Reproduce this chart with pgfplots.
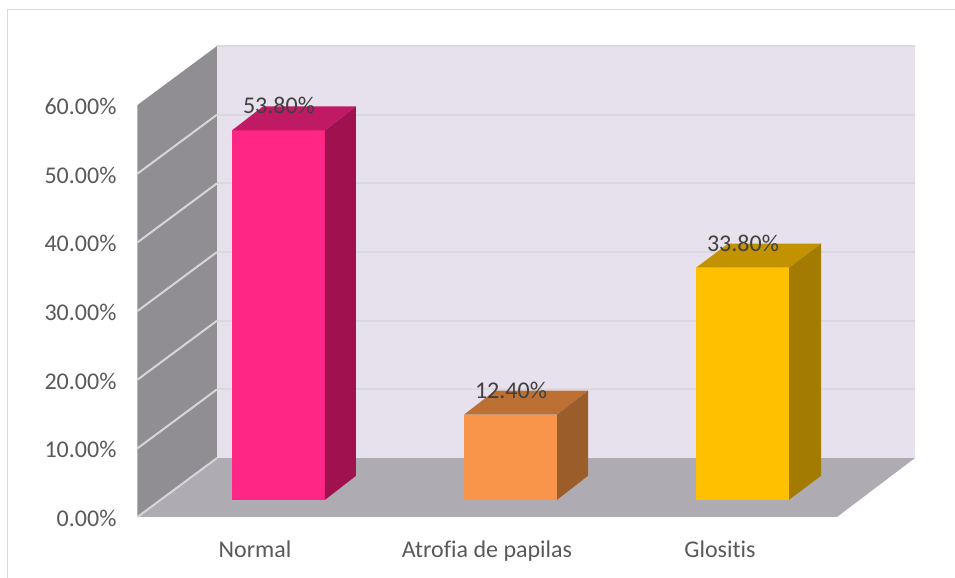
\documentclass[border=0pt]{standalone}
\usepackage{fontspec}
\setmainfont[Ligatures=NoCommon]{Carlito}
\usepackage{pgfplots}
\pgfplotsset{compat=1.18}
\definecolor{backw}{HTML}{E6E1ED}
\definecolor{backg}{HTML}{DCD8E2}
\definecolor{leftw}{HTML}{908E93}
\definecolor{floorw}{HTML}{AEACB2}
\definecolor{wallg}{HTML}{D6D6D9}
\definecolor{frame}{HTML}{D9D9D9}
\definecolor{pinkF}{HTML}{FF2685}
\definecolor{pinkT}{HTML}{BF1A63}
\definecolor{pinkS}{HTML}{A0124F}
\definecolor{orgF}{HTML}{F9954A}
\definecolor{orgT}{HTML}{BC7033}
\definecolor{orgS}{HTML}{9B5E2B}
\definecolor{yelF}{HTML}{FFC000}
\definecolor{yelT}{HTML}{C29200}
\definecolor{yelS}{HTML}{A37B00}
\begin{document}
\begin{tikzpicture}[x=1pt,y=1pt]
\useasboundingbox (0,0) rectangle (477.5,289);
\draw[frame,line width=0.8pt] (3.75,0) -- (3.75,284.25) -- (477.5,284.25);
\begin{axis}[
  at={(68.75pt,30.5pt)}, anchor=south west,
  scale only axis, width=349.75pt, height=206pt,
  xmin=137.5, xmax=837, ymin=0, ymax=60,
  clip=false,
  axis line style={draw=none},
  major tick style={draw=none},
  ytick={0,10,20,30,40,50,60},
  xtick={255,487,720},
  xticklabels={Normal,Atrofia de papilas,Glositis},
  yticklabel={\pgfmathprintnumber[fixed,fixed zerofill,precision=2,assume math mode=true]{\tick}\%},
  tick label style={font=\fontsize{12}{14}\selectfont, text=black!65},
  yticklabel style={xshift=-7pt,yshift=-0.7pt},
  xticklabel style={yshift=-8.5pt},
]
% back wall, floor, left wall
\addplot[draw=none,fill=backw] coordinates {(217,8.59)(915,8.59)(915,68.59)(217,68.59)} -- cycle;
\addplot[draw=none,fill=floorw] coordinates {(137.5,0)(837,0)(915,8.59)(217,8.59)} -- cycle;
\addplot[draw=none,fill=leftw] coordinates {(137.5,0)(217,8.59)(217,68.59)(137.5,60)} -- cycle;
% gridlines on back wall
\addplot[backg,line width=1.1pt] coordinates {(217,18.59)(915,18.59)};
\addplot[backg,line width=1.1pt] coordinates {(217,28.59)(915,28.59)};
\addplot[backg,line width=1.1pt] coordinates {(217,38.59)(915,38.59)};
\addplot[backg,line width=1.1pt] coordinates {(217,48.59)(915,48.59)};
\addplot[backg,line width=1.1pt] coordinates {(217,58.59)(915,58.59)};
\addplot[backg,line width=1.1pt] coordinates {(217,68.59)(915,68.59)};
% gridlines on left wall
\addplot[wallg,line width=1pt] coordinates {(137.5,0)(217,8.59)};
\addplot[wallg,line width=1pt] coordinates {(137.5,10)(217,18.59)};
\addplot[wallg,line width=1pt] coordinates {(137.5,20)(217,28.59)};
\addplot[wallg,line width=1pt] coordinates {(137.5,30)(217,38.59)};
\addplot[wallg,line width=1pt] coordinates {(137.5,40)(217,48.59)};
\addplot[wallg,line width=1pt] coordinates {(137.5,50)(217,58.59)};
% Normal, 53.80
\addplot[draw=none,fill=pinkF] coordinates {(232,2.5)(325,2.5)(325,56.3)(232,56.3)} -- cycle;
\addplot[draw=none,fill=pinkT] coordinates {(232,56.3)(325,56.3)(356,59.8)(263,59.8)} -- cycle;
\addplot[draw=none,fill=pinkS] coordinates {(325,2.5)(356,6)(356,59.8)(325,56.3)} -- cycle;
% Atrofia de papilas, 12.40
\addplot[draw=none,fill=orgF] coordinates {(464,2.5)(557,2.5)(557,14.9)(464,14.9)} -- cycle;
\addplot[draw=none,fill=orgT] coordinates {(464,14.9)(557,14.9)(588,18.4)(495,18.4)} -- cycle;
\addplot[draw=none,fill=orgS] coordinates {(557,2.5)(588,6)(588,18.4)(557,14.9)} -- cycle;
% Glositis, 33.80
\addplot[draw=none,fill=yelF] coordinates {(696,2.5)(789,2.5)(789,36.3)(696,36.3)} -- cycle;
\addplot[draw=none,fill=yelT] coordinates {(696,36.3)(789,36.3)(821,39.8)(728,39.8)} -- cycle;
\addplot[draw=none,fill=yelS] coordinates {(789,2.5)(821,6)(821,39.8)(789,36.3)} -- cycle;
% data labels
\addplot[draw=none,mark=none,
  point meta=explicit,
  nodes near coords={\pgfmathprintnumber[fixed,fixed zerofill,precision=2,assume math mode=true]{\pgfplotspointmeta}\%},
  nodes near coords style={anchor=center,font=\fontsize{12}{14}\selectfont,text=black!75},
] table[x=x,y=ypos,meta=v] {
x ypos v
279 59.9 53.8
511 18.5 12.4
743 39.9 33.8
};
\end{axis}
\end{tikzpicture}
\end{document}
